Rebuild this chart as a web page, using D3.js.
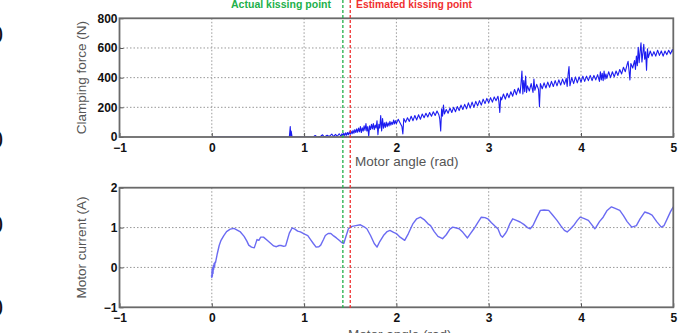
<!DOCTYPE html>
<html><head><meta charset="utf-8">
<script src="https://cdn.jsdelivr.net/npm/d3@7"></script>
<style>body{margin:0;background:#fff}svg{display:block}</style>
</head><body>
<script>
// ---- data ----
const xTicks = [-1, 0, 1, 2, 3, 4, 5];
const forceTicks = [0, 200, 400, 600, 800];
const currentTicks = [-1, 0, 1, 2];
const actualKissing = 1.42;
const estimatedKissing = 1.5;
const kissingLabels = ["Actual kissing point", "Estimated kissing point"];
const xLabel = "Motor angle (rad)";
const forceLabel = "Clamping force (N)";
const currentLabel = "Motor current (A)";

const clampingForce = [[0,0],[0.84,0],[0.85,70],[0.855,0],[0.86,40],[0.87,0],[1.1,0],[1.12,10],[1.14,0],[1.18,5],[1.2,15],[1.22,0],[1.25,12],[1.27,3],[1.3,20],[1.32,2],[1.34,18],[1.36,5],[1.38,22],
[1.40,5],[1.41,22],[1.42,8],[1.43,25],[1.44,10],[1.45,28],[1.46,12],[1.47,30],[1.48,15],[1.49,35],[1.50,18],[1.51,38],[1.52,22],[1.53,45],[1.54,25],[1.55,50],[1.56,30],[1.57,55],[1.58,32],[1.59,60],[1.60,35],[1.61,70],[1.62,30],[1.63,62],[1.64,40],[1.65,75],[1.66,45],[1.67,90],[1.68,40],[1.69,70],[1.70,5],[1.71,75],[1.72,50],[1.73,85],[1.74,55],[1.75,90],[1.76,50],[1.77,80],[1.78,60],[1.79,110],[1.80,15],[1.81,85],[1.82,60],[1.83,145],[1.84,40],[1.85,125],[1.86,60],[1.87,95],[1.88,65],[1.89,100],[1.90,70],[1.91,95],[1.92,75],[1.93,105],[1.94,80],[1.95,100],[1.96,85],[1.97,115],[1.98,88],[1.99,110],[2.00,90],
[2.02,120],[2.04,95],[2.06,70],[2.07,20],[2.08,125],[2.10,100],[2.12,130],[2.14,105],[2.16,140],[2.18,110],[2.20,145],[2.22,115],[2.24,150],[2.26,120],[2.28,155],[2.30,130],[2.32,160],[2.34,135],[2.36,165],[2.38,140],[2.40,170],[2.42,145],[2.44,175],[2.46,150],[2.47,120],[2.48,40],[2.49,190],[2.50,140],[2.51,215],[2.52,155],[2.54,185],[2.56,160],[2.58,195],[2.60,165],[2.62,200],[2.64,170],[2.66,205],[2.68,178],[2.70,215],[2.72,185],[2.74,220],[2.76,190],[2.78,230],[2.80,195],[2.82,235],[2.84,200],[2.86,240],[2.88,210],[2.90,245],[2.92,215],[2.94,255],[2.96,225],[2.98,260],[3.00,230],[3.02,265],[3.04,235],[3.06,270],[3.08,245],[3.10,275],[3.11,240],[3.12,165],[3.13,270],[3.14,250],[3.16,290],[3.18,255],[3.20,295],[3.22,265],[3.24,305],[3.26,275],[3.28,320],[3.30,285],[3.32,330],[3.34,295],[3.35,360],[3.36,445],[3.37,290],[3.38,380],[3.39,305],[3.40,410],[3.41,300],[3.42,345],[3.44,310],[3.46,360],[3.48,300],[3.49,390],[3.50,315],[3.52,355],[3.54,320],[3.55,205],[3.56,360],[3.58,325],[3.60,365],[3.62,330],[3.64,370],[3.66,335],[3.68,375],[3.70,340],[3.72,380],[3.74,345],[3.76,385],[3.78,350],[3.80,390],[3.82,355],[3.84,395],[3.85,340],[3.86,420],[3.87,475],[3.88,345],[3.90,400],[3.92,360],[3.94,405],[3.96,365],[3.98,405],[4.00,370],[4.02,410],[4.04,375],[4.06,410],[4.08,380],[4.10,415],[4.12,380],[4.14,415],[4.16,385],[4.18,420],[4.20,375],[4.21,440],[4.22,385],[4.23,430],[4.24,380],[4.25,445],[4.26,390],[4.27,425],[4.28,395],[4.30,440],[4.32,400],[4.34,440],[4.36,405],[4.38,445],[4.40,415],[4.42,455],[4.44,425],[4.46,470],[4.48,440],[4.50,490],[4.51,510],[4.52,450],[4.53,385],[4.54,495],[4.56,465],[4.58,515],[4.59,455],[4.60,545],[4.61,480],[4.62,605],[4.63,500],[4.64,575],[4.65,635],[4.66,505],[4.67,565],[4.68,625],[4.69,525],[4.70,575],[4.71,450],[4.72,595],[4.73,535],[4.75,580],[4.77,545],[4.79,575],[4.81,545],[4.83,585],[4.85,550],[4.87,580],[4.89,545],[4.91,580],[4.93,555],[4.95,585],[4.97,560],[4.99,590],[5.00,570]];

const motorCurrent = [[-0.005,-0.2],[0.0,-0.25],[0.003,-0.05],[0.006,-0.22],[0.01,0.0],[0.013,-0.15],[0.017,0.05],[0.02,-0.05],[0.025,0.1],[0.03,0.02],[0.035,0.13],[0.04,0.12],[0.06,0.35],[0.08,0.55],[0.1,0.68],[0.13,0.8],[0.16,0.9],[0.2,0.96],[0.24,0.98],[0.28,0.93],[0.31,0.89],[0.35,0.78],[0.38,0.66],[0.4,0.56],[0.43,0.51],[0.46,0.49],[0.47,0.56],[0.49,0.70],[0.51,0.68],[0.53,0.76],[0.56,0.76],[0.6,0.68],[0.64,0.6],[0.67,0.54],[0.7,0.52],[0.73,0.55],[0.75,0.55],[0.78,0.53],[0.8,0.54],[0.82,0.7],[0.84,0.86],[0.87,0.99],[0.9,0.96],[0.93,0.91],[0.96,0.89],[1.0,0.84],[1.04,0.8],[1.07,0.7],[1.1,0.6],[1.13,0.51],[1.16,0.52],[1.18,0.56],[1.21,0.7],[1.23,0.8],[1.26,0.85],[1.29,0.85],[1.32,0.79],[1.35,0.74],[1.38,0.68],[1.41,0.62],[1.43,0.6],[1.45,0.75],[1.48,0.97],[1.52,1.03],[1.56,1.05],[1.61,1.07],[1.65,1.02],[1.68,0.97],[1.72,0.8],[1.76,0.6],[1.79,0.51],[1.82,0.65],[1.86,0.8],[1.9,0.9],[1.93,0.93],[1.97,0.88],[2.0,0.85],[2.04,0.76],[2.09,0.68],[2.13,0.85],[2.18,1.1],[2.22,1.22],[2.26,1.26],[2.3,1.2],[2.34,1.1],[2.37,1.05],[2.41,0.9],[2.45,0.78],[2.5,0.72],[2.54,0.82],[2.58,0.96],[2.61,1.01],[2.65,0.99],[2.68,0.97],[2.72,0.88],[2.77,0.74],[2.8,0.84],[2.84,0.97],[2.88,1.12],[2.92,1.26],[2.96,1.25],[2.99,1.22],[3.03,1.12],[3.07,1.03],[3.1,0.97],[3.13,0.8],[3.15,0.76],[3.18,0.85],[3.2,0.93],[3.23,1.1],[3.26,1.22],[3.3,1.18],[3.34,1.14],[3.38,1.08],[3.42,1.0],[3.45,0.97],[3.48,1.05],[3.52,1.25],[3.56,1.43],[3.6,1.44],[3.65,1.43],[3.69,1.32],[3.74,1.18],[3.78,1.05],[3.82,0.93],[3.85,0.89],[3.88,0.95],[3.92,1.05],[3.96,1.18],[3.99,1.26],[4.03,1.23],[4.08,1.18],[4.12,1.06],[4.15,0.97],[4.16,1.0],[4.2,1.15],[4.24,1.26],[4.28,1.42],[4.33,1.52],[4.37,1.48],[4.42,1.43],[4.46,1.3],[4.5,1.15],[4.55,1.01],[4.6,1.05],[4.64,1.22],[4.69,1.39],[4.73,1.36],[4.77,1.31],[4.82,1.15],[4.87,1.01],[4.9,1.05],[4.94,1.25],[4.97,1.4],[5.0,1.52]];

// ---- layout ----
const W = 686, H = 333;
const FONT = "Liberation Sans, Arial, sans-serif";
const svg = d3.select("body").append("svg").attr("width", W).attr("height", H);
const left = 119.5, right = 673.3;
const x = d3.scaleLinear().domain([-1, 5]).range([left, right]);
const yF = d3.scaleLinear().domain([0, 800]).range([137, 18.3]);
const yC = d3.scaleLinear().domain([-1, 2]).range([307.3, 187.7]);

// cut-off characters at left edge (from neighbouring figure)
[35, 140, 225, 308].forEach(yy => {
  svg.append("text").attr("x", 3).attr("y", yy + 8).attr("text-anchor", "end")
    .attr("font-family", FONT).attr("font-size", 24).attr("fill", "#111").text("0");
});

const defs = svg.append("defs");
function panel(y, ticks, data, label, id, lineColor, lineWidth) {
  const [y0, y1] = y.range();
  defs.append("clipPath").attr("id", id).append("rect")
    .attr("x", left).attr("y", y1).attr("width", right - left).attr("height", y0 - y1);
  const g = svg.append("g");
  g.selectAll(".gx").data(xTicks.slice(1, -1)).join("line")
    .attr("x1", d => x(d)).attr("x2", d => x(d)).attr("y1", y1).attr("y2", y0)
    .attr("stroke", "#999").attr("stroke-width", 1).attr("stroke-dasharray", "1.5,2");
  g.selectAll(".gy").data(ticks.slice(1, -1)).join("line")
    .attr("x1", left).attr("x2", right).attr("y1", d => y(d)).attr("y2", d => y(d))
    .attr("stroke", "#999").attr("stroke-width", 1).attr("stroke-dasharray", "1.5,2");
  g.append("path").datum(data).attr("clip-path", `url(#${id})`)
    .attr("d", d3.line().x(d => x(d[0])).y(d => y(d[1])))
    .attr("fill", "none").attr("stroke", lineColor).attr("stroke-width", lineWidth)
    .attr("stroke-linejoin", "round");
  const ax = g.append("g").attr("transform", `translate(0,${y0})`)
    .call(d3.axisBottom(x).tickValues(xTicks).tickSize(-4).tickPadding(6).tickFormat(d3.format("d")));
  const ay = g.append("g").attr("transform", `translate(${left},0)`)
    .call(d3.axisLeft(y).tickValues(ticks).tickSize(-4).tickPadding(2).tickFormat(d3.format("d")));
  [ax, ay].forEach(a => {
    a.select(".domain").remove();
    a.selectAll(".tick line").attr("stroke", "#555");
    a.selectAll("text").attr("font-family", FONT)
      .attr("font-size", 12).attr("font-weight", "bold").attr("fill", "#111");
  });
  g.append("rect").attr("x", left).attr("y", y1).attr("width", right - left).attr("height", y0 - y1)
    .attr("fill", "none").attr("stroke", "#6a6a6a").attr("stroke-width", 1.8);
  g.append("text").attr("transform", `translate(86,${(y0 + y1) / 2}) rotate(-90)`)
    .attr("text-anchor", "middle").attr("font-family", FONT)
    .attr("font-size", 13.5).attr("fill", "#555").text(label);
}
panel(yF, forceTicks, clampingForce, forceLabel, "cf", "#1c1cf0", 1.1);
panel(yC, currentTicks, motorCurrent, currentLabel, "cc", "#6b6bf2", 1.4);

svg.append("text").attr("x", 355).attr("y", 166).attr("font-family", FONT)
  .attr("font-size", 13.5).attr("fill", "#555").text(xLabel);
svg.append("text").attr("x", 348).attr("y", 339).attr("font-family", FONT)
  .attr("font-size", 13.5).attr("fill", "#555").text(xLabel);

[[actualKissing, "#22b04a"], [estimatedKissing, "#f03030"]].forEach(([k, c]) => {
  svg.append("line").attr("x1", x(k)).attr("x2", x(k)).attr("y1", 0).attr("y2", 309)
    .attr("stroke", c).attr("stroke-width", 1.3).attr("stroke-dasharray", "3,2");
});
svg.append("text").attr("x", 331).attr("y", 8).attr("text-anchor", "end")
  .attr("font-family", FONT).attr("font-weight", "bold")
  .attr("font-size", 11).attr("fill", "#22b04a")
  .attr("textLength", 100).attr("lengthAdjust", "spacingAndGlyphs").text(kissingLabels[0]);
svg.append("text").attr("x", 356).attr("y", 8)
  .attr("font-family", FONT).attr("font-weight", "bold")
  .attr("font-size", 11).attr("fill", "#f03030")
  .attr("textLength", 116).attr("lengthAdjust", "spacingAndGlyphs").text(kissingLabels[1]);
</script>
</body></html>
